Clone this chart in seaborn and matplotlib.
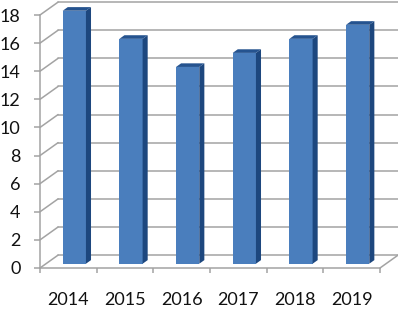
import pandas as pd
import seaborn as sns
import matplotlib.pyplot as plt
from matplotlib.patches import Polygon

# Dados
anos = ["2014", "2015", "2016", "2017", "2018", "2019"]
valores = [18, 16, 14, 15, 16, 17]
y_ticks = [0, 2, 4, 6, 8, 10, 12, 14, 16, 18]

df = pd.DataFrame({"ano": anos, "valor": valores})

sns.set_style("white")
plt.rcParams["font.family"] = ["Lato", "DejaVu Sans"]

fig = plt.figure(figsize=(3.98, 3.11), dpi=100)
ax = fig.add_axes([40 / 398, 43 / 311, 340 / 398, 253 / 311])

cor_frente = "#4a7ebd"
cor_lado = "#1d477e"
cor_topo = "#25538f"
cor_grade = "#a3a3a3"

# profundidade da "caixa" 3D (em unidades de dados)
dx, dy = 0.32, 0.92
# posicao e profundidade das barras dentro da caixa
ox, oy = 0.33 * dx, 0.33 * dy
sx, sy = 0.28 * dx, 0.28 * dy

sns.barplot(data=df, x="ano", y="valor", color=cor_frente, saturation=1,
            width=0.41, ax=ax, zorder=3, linewidth=0)

ax.set_xlim(-0.5, 5.5)
ax.set_ylim(0, 18)

# parede do fundo e linhas diagonais
for k in y_ticks:
    ax.plot([-0.5, -0.5 + dx], [k, k + dy], color=cor_grade, lw=1.1,
            clip_on=False, zorder=1)
    ax.plot([-0.5 + dx, 5.5 + dx], [k + dy, k + dy], color=cor_grade, lw=1.1,
            clip_on=False, zorder=1)
ax.plot([5.5, 5.5 + dx], [0, dy], color=cor_grade, lw=1.1, clip_on=False, zorder=1)

# barras com faces lateral e superior
for p in ax.patches[:len(valores)]:
    x0 = p.get_x() + ox
    w = p.get_width()
    h = p.get_height()
    p.set_x(x0)
    p.set_y(oy)
    p.set_clip_on(False)
    lado = Polygon([(x0 + w, oy), (x0 + w + sx, oy + sy),
                    (x0 + w + sx, oy + h + sy), (x0 + w, oy + h)],
                   closed=True, facecolor=cor_lado, edgecolor="none",
                   zorder=3, clip_on=False)
    topo = Polygon([(x0, oy + h), (x0 + sx, oy + h + sy),
                    (x0 + w + sx, oy + h + sy), (x0 + w, oy + h)],
                   closed=True, facecolor=cor_topo, edgecolor="none",
                   zorder=3, clip_on=False)
    ax.add_patch(lado)
    ax.add_patch(topo)

for s in ["top", "right"]:
    ax.spines[s].set_visible(False)
for s in ["left", "bottom"]:
    ax.spines[s].set_color(cor_grade)
    ax.spines[s].set_linewidth(1.1)

ax.set_yticks(y_ticks)
ax.tick_params(axis="y", left=True, length=4.5, width=1.1, color=cor_grade,
               pad=9.5, labelsize=13, labelcolor="#111111")
ax.set_xticks(range(len(anos)))
ax.set_xticks([i - 0.5 for i in range(len(anos) + 1)], minor=True)
ax.tick_params(axis="x", which="major", length=0, pad=17, labelsize=13,
               labelcolor="#111111")
ax.tick_params(axis="x", which="minor", bottom=True, length=3.5, width=1.1,
               color=cor_grade)
ax.set_xlabel("")
ax.set_ylabel("")

plt.savefig("out.png", dpi=100)
